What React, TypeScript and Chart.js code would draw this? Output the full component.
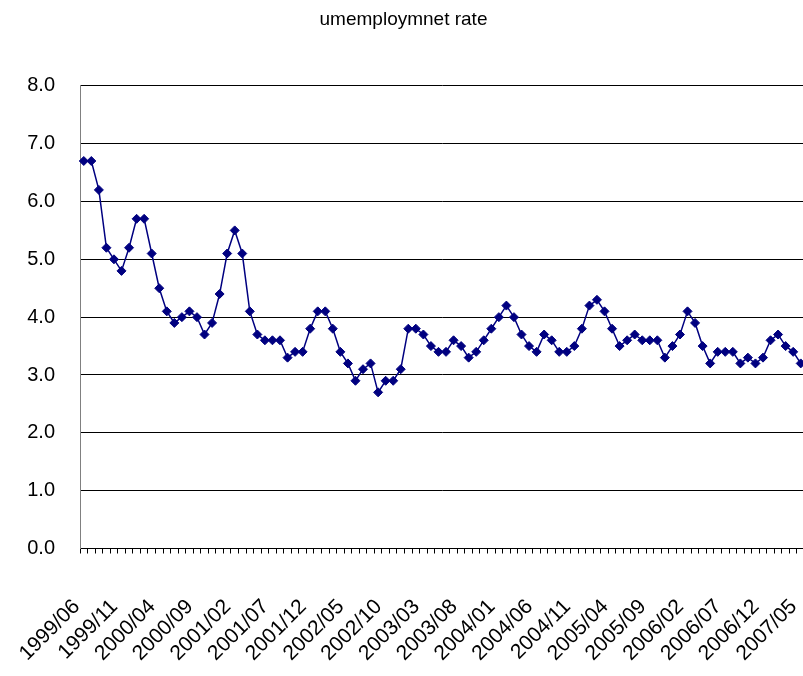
import React, { useEffect, useRef } from "react";
import { Chart, registerables } from "chart.js";

Chart.register(...registerables);

const title = "umemploymnet rate";

const categories = [
  "1999/06", "1999/07", "1999/08", "1999/09", "1999/10", "1999/11", "1999/12",
  "2000/01", "2000/02", "2000/03", "2000/04", "2000/05", "2000/06", "2000/07", "2000/08", "2000/09", "2000/10", "2000/11", "2000/12",
  "2001/01", "2001/02", "2001/03", "2001/04", "2001/05", "2001/06", "2001/07", "2001/08", "2001/09", "2001/10", "2001/11", "2001/12",
  "2002/01", "2002/02", "2002/03", "2002/04", "2002/05", "2002/06", "2002/07", "2002/08", "2002/09", "2002/10", "2002/11", "2002/12",
  "2003/01", "2003/02", "2003/03", "2003/04", "2003/05", "2003/06", "2003/07", "2003/08", "2003/09", "2003/10", "2003/11", "2003/12",
  "2004/01", "2004/02", "2004/03", "2004/04", "2004/05", "2004/06", "2004/07", "2004/08", "2004/09", "2004/10", "2004/11", "2004/12",
  "2005/01", "2005/02", "2005/03", "2005/04", "2005/05", "2005/06", "2005/07", "2005/08", "2005/09", "2005/10", "2005/11", "2005/12",
  "2006/01", "2006/02", "2006/03", "2006/04", "2006/05", "2006/06", "2006/07", "2006/08", "2006/09", "2006/10", "2006/11", "2006/12",
  "2007/01", "2007/02", "2007/03", "2007/04", "2007/05",
];

const tickLabels = [
  "1999/06", "1999/11", "2000/04", "2000/09", "2001/02", "2001/07", "2001/12",
  "2002/05", "2002/10", "2003/03", "2003/08", "2004/01", "2004/06", "2004/11",
  "2005/04", "2005/09", "2006/02", "2006/07", "2006/12", "2007/05",
];

const unemploymentRate = [
  6.7, 6.7, 6.2, 5.2, 5.0, 4.8, 5.2, 5.7, 5.7, 5.1, 4.5, 4.1, 3.9, 4.0, 4.1, 4.0, 3.7, 3.9, 4.4, 5.1, 5.5, 5.1, 4.1, 3.7, 3.6, 3.6,
  3.6, 3.3, 3.4, 3.4, 3.8, 4.1, 4.1, 3.8, 3.4, 3.2, 2.9, 3.1, 3.2, 2.7, 2.9, 2.9, 3.1, 3.8, 3.8, 3.7, 3.5, 3.4, 3.4, 3.6,
  3.5, 3.3, 3.4, 3.6, 3.8, 4.0, 4.2, 4.0, 3.7, 3.5, 3.4, 3.7, 3.6, 3.4, 3.4, 3.5, 3.8, 4.2, 4.3, 4.1, 3.8, 3.5, 3.6, 3.7,
  3.6, 3.6, 3.6, 3.3, 3.5, 3.7, 4.1, 3.9, 3.5, 3.2, 3.4, 3.4, 3.4, 3.2, 3.3, 3.2, 3.3, 3.6, 3.7, 3.5, 3.4, 3.2,
];

const yMin = 0;
const yMax = 8;
const yStep = 1;

const FONT = "'Liberation Sans', Arial, sans-serif";
const NAVY = "#000080";

export default function App() {
  const ref = useRef<HTMLCanvasElement | null>(null);

  useEffect(() => {
    if (!ref.current) return;
    const chart = new Chart(ref.current, {
      type: "line",
      data: {
        labels: categories,
        datasets: [
          {
            label: title,
            data: unemploymentRate,
            borderColor: NAVY,
            backgroundColor: NAVY,
            borderWidth: 1.5,
            pointStyle: "rectRot",
            pointRadius: 4.5,
            pointBorderWidth: 1,
            pointBackgroundColor: NAVY,
            pointBorderColor: NAVY,
            tension: 0,
            fill: false,
          },
        ],
      },
      options: {
        responsive: false,
        animation: false,
        devicePixelRatio: 1,
        layout: { padding: { left: 0, right: 3, top: 0, bottom: 0 } },
        plugins: {
          legend: { display: false },
          tooltip: { enabled: false },
          title: {
            display: true,
            text: title,
            color: "#000",
            font: { family: FONT, size: 19, weight: "normal" },
            padding: { top: 8, bottom: 55 },
          },
        },
        scales: {
          x: {
            type: "category",
            offset: true,
            afterFit: (scale: any) => {
              scale.height = 127.5;
              scale.paddingLeft = 0;
              scale.paddingRight = 0;
            },
            grid: {
              display: true,
              offset: true,
              drawOnChartArea: false,
              drawTicks: true,
              tickLength: 5,
              color: "#000",
            },
            border: { display: true, color: "#000", width: 1 },
            ticks: {
              autoSkip: false,
              minRotation: 45,
              maxRotation: 45,
              padding: 41,
              labelOffset: -7,
              color: "#000",
              font: { family: FONT, size: 21 },
              callback: function (this: any, _v: any, i: number) {
                const lab = categories[i];
                return tickLabels.includes(lab) ? lab : "";
              },
            },
          },
          y: {
            min: yMin,
            max: yMax,
            afterFit: (scale: any) => {
              scale.width = 80;
            },
            grid: {
              display: true,
              drawTicks: false,
              color: "#000",
              lineWidth: 1,
            },
            border: { display: true, color: "#808080", width: 1 },
            ticks: {
              stepSize: yStep,
              padding: 25,
              color: "#000",
              font: { family: FONT, size: 20 },
              callback: (v: any) => Number(v).toFixed(1),
            },
          },
        },
      },
    });
    return () => chart.destroy();
  }, []);

  return (
    <div
      style={{
        position: "fixed",
        left: 0,
        top: 0,
        width: 803,
        height: 676,
        overflow: "hidden",
        background: "#fff",
      }}
    >
      <canvas ref={ref} width={810} height={676} style={{ display: "block" }} />
    </div>
  );
}
